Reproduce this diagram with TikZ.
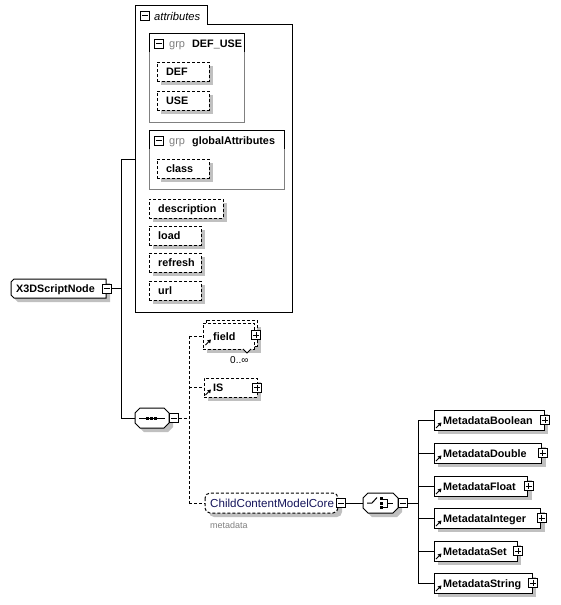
\documentclass[tikz,border=0pt]{standalone}
\usepackage{fontspec}
\setmainfont{Liberation Sans}
\usetikzlibrary{calc}
\definecolor{shd}{RGB}{192,192,192}
\definecolor{grpgray}{RGB}{128,128,128}
\definecolor{navy}{RGB}{20,20,90}
\tikzset{
 ebox/.style={draw, fill=white, line width=1pt, inner sep=0pt, outer sep=0pt, anchor=north west},
 abox/.style={ebox, dash pattern=on 3pt off 2pt},
 grpbox/.style={draw=grpgray, line width=1pt, inner sep=0pt, outer sep=0pt, anchor=north west},
 hitbox/.style={inner sep=0pt, outer sep=0pt, anchor=north west},
 xbox/.style={draw, fill=white, line width=1pt, minimum size=9pt, inner sep=0pt, outer sep=0pt},
 lbl/.style={inner sep=0pt, anchor=base west, font=\fontsize{10.8}{12}\selectfont\bfseries},
 reglbl/.style={inner sep=0pt, anchor=base west, font=\fontsize{11}{12}\selectfont},
 conn/.style={line width=1pt},
 dconn/.style={line width=1pt, dash pattern=on 3pt off 2pt},
}
\newcommand{\minusbox}[3]{\node[xbox] (#1) at (#2,#3) {};
 \draw[line width=1pt] ($(#1.center)+(-3,0)$) -- ($(#1.center)+(3,0)$);}
\newcommand{\plusbox}[3]{\minusbox{#1}{#2}{#3}
 \draw[line width=1pt] ($(#1.center)+(0,-3)$) -- ($(#1.center)+(0,3)$);}
% style, name, x1, y1, x2, y2, text x, text
\newcommand{\bx}[8]{%
 \fill[shd] (#3+4,#4+4) rectangle (#5+4,#6+4);
 \node[#1, minimum width=#5-#3, minimum height=#6-#4] (#2) at (#3,#4) {};
 \node[lbl] at (#7,{(#4+#6)/2+4}) {#8};}
\newcommand{\refarrow}[2]{%
 \draw[line width=0.9pt] (#1,#2) -- (#1+3,#2-3);
 \fill (#1+5.5,#2-5.5) -- (#1+1.6,#2-4.6) -- (#1+4.6,#2-1.6) -- cycle;}
\begin{document}
\begin{tikzpicture}[x=1pt,y=-1pt]
\useasboundingbox[fill=white] (0,0) rectangle (561,605);

% ---------- attributes container
\draw[conn] (135,5) -- (207,5) -- (207,24) -- (292,24) -- (292,312) -- (135,312) -- cycle;
\node[hitbox, minimum width=157, minimum height=307] (attrs) at (135,5) {};
\minusbox{mattr}{145}{15.5}
\node[reglbl, font=\fontsize{11.2}{12}\selectfont\itshape] (tattr) at (154,20) {attributes};

% group DEF_USE
\node[grpbox, minimum width=95, minimum height=89] (defuse) at (149,33) {};
\draw[conn] (149,52) -- (149,33) -- (244,33) -- (244,52);
\minusbox{mdefuse}{159}{43.5}
\node[reglbl, text=grpgray] at (169,47.5) {grp};
\node[lbl] at (192,47.5) {DEF\_USE};
\bx{abox}{def}{157}{62}{209}{81}{166}{DEF}
\bx{abox}{use}{157}{91}{209}{110}{166}{USE}

% group globalAttributes
\node[grpbox, minimum width=135, minimum height=59] (glob) at (149,130) {};
\draw[conn] (149,149) -- (149,130) -- (284,130) -- (284,149);
\minusbox{mglob}{159}{140.5}
\node[reglbl, text=grpgray] at (169,144.5) {grp};
\node[lbl] at (192,144.5) {globalAttributes};
\bx{abox}{class}{157}{159}{209}{178}{166}{class}

\bx{abox}{descr}{149}{199}{223}{218}{158}{description}
\bx{abox}{load}{149}{226}{201}{245}{158}{load}
\bx{abox}{refresh}{149}{253}{201}{272}{158}{refresh}
\bx{abox}{url}{149}{281}{201}{300}{158}{url}

% ---------- X3DScriptNode
\fill[shd] (18,283) -- (110,283) -- (110,302) -- (18,302) -- (15,299) -- (15,286) -- cycle;
\draw[conn, fill=white] (14,279) -- (106,279) -- (106,298) -- (14,298) -- (11,295) -- (11,282) -- cycle;
\node[hitbox, minimum width=95, minimum height=19] (x3d) at (11,279) {};
\node[lbl] at (16,292.5) {X3DScriptNode};
\minusbox{mx3d}{107}{288.5}

% trunk connectors
\coordinate (j1) at (121,159);
\coordinate (j2) at (121,418);
\draw[conn] (mx3d.east) -- (mx3d.east -| j1);
\draw[conn] (attrs.west |- j1) -- (j1) -- (j2);

% ---------- sequence
\fill[shd] (144,412) -- (168,412) -- (173,417) -- (173,427) -- (168,432) -- (144,432) -- (139,427) -- (139,417) -- cycle;
\draw[conn, fill=white] (140,408) -- (164,408) -- (169,413) -- (169,423) -- (164,428) -- (140,428) -- (135,423) -- (135,413) -- cycle;
\node[hitbox, minimum width=34, minimum height=20] (seq) at (135,408) {};
\draw[conn] (139,418) -- (165,418);
\fill (145.5,416.5) rectangle (148.5,419.5);
\fill (149.5,416.5) rectangle (152.5,419.5);
\fill (153.5,416.5) rectangle (156.5,419.5);
\minusbox{mseq}{174}{418}
\draw[conn] (j2) -- (seq.west);

\coordinate (s1) at (189,336);
\coordinate (s2) at (189,418);
\coordinate (s3) at (189,503);
\draw[dconn] (mseq.east) -- (s2);
\draw[dconn] (s1) -- (s3);

% field (multiple)
\fill[shd] (207,327) rectangle (261,353);
\draw[dconn, fill=white] (206,320) rectangle (257,346);
\node[abox, minimum width=51, minimum height=26] (field) at (203,323) {};
\node[lbl] at (213,340) {field};
\refarrow{205.5}{345}
\plusbox{pfield}{256}{335}
\draw[line width=0.8pt, fill=white] (243,349) -- (247,353) -- (251,349);
\node[reglbl, font=\fontsize{10}{12}\selectfont] at (230,363.5) {0..∞};
\draw[dconn] (s1) -- (s1 -| field.west);

% IS
\bx{abox}{is}{204}{378}{257}{397}{213}{IS}
\refarrow{205.5}{395}
\plusbox{pis}{257}{387.5}
\draw[dconn] (s1 |- is.west) -- (is.west);

% ChildContentModelCore
\fill[shd, rounded corners=5pt] (209,497) rectangle (342,517);
\draw[dconn, fill=white, rounded corners=5pt] (205,493) rectangle (338,513);
\node[hitbox, minimum width=133, minimum height=20] (ccmc) at (205,493) {};
\node[reglbl, text=navy, font=\fontsize{11.6}{12}\selectfont] at (210,507.5) {ChildContentModelCore};
\node[reglbl, text=grpgray, font=\fontsize{9}{10}\selectfont] at (210,528) {metadata};
\minusbox{mccmc}{341}{503}
\draw[dconn] (s3) -- (ccmc.west);

% ---------- choice
\fill[shd] (372,497) -- (397,497) -- (402,502) -- (402,512) -- (397,517) -- (372,517) -- (367,512) -- (367,502) -- cycle;
\draw[conn, fill=white] (368,493) -- (393,493) -- (398,498) -- (398,508) -- (393,513) -- (368,513) -- (363,508) -- (363,498) -- cycle;
\node[hitbox, minimum width=35, minimum height=20] (choice) at (363,493) {};
\draw[conn] (367,503) -- (372,503) -- (377,497.5);
\fill (379.5,497) rectangle (382.5,500);
\fill (379.5,501.5) rectangle (382.5,504.5);
\fill (379.5,506) rectangle (382.5,509);
\draw[conn] (382.5,499) -- (387.5,499) -- (387.5,507.5) -- (382.5,507.5);
\draw[conn] (387.5,503) -- (393,503);
\minusbox{mchoice}{403}{503}
\draw[conn] (mccmc.east) -- (choice.west);

\coordinate (c0) at (418,503);
\coordinate (ct) at (418,420);
\coordinate (cb) at (418,583);
\draw[conn] (mchoice.east) -- (c0);
\draw[conn] (ct) -- (cb);

% metadata elements
\bx{ebox}{mbool}{434}{410}{544}{430}{443}{MetadataBoolean}
\refarrow{436}{428}
\plusbox{pmbool}{545}{420}
\bx{ebox}{mdouble}{434}{443}{541.5}{463}{443}{MetadataDouble}
\refarrow{436}{461}
\plusbox{pmdouble}{542.5}{453}
\bx{ebox}{mfloat}{434}{476}{527.5}{496}{443}{MetadataFloat}
\refarrow{436}{494}
\plusbox{pmfloat}{528.5}{486}
\bx{ebox}{mint}{434}{508}{540.5}{528}{443}{MetadataInteger}
\refarrow{436}{526}
\plusbox{pmint}{541.5}{518}
\bx{ebox}{mset}{434}{541}{517}{561}{443}{MetadataSet}
\refarrow{436}{559}
\plusbox{pmset}{518}{551}
\bx{ebox}{mstr}{434}{573}{532}{593}{443}{MetadataString}
\refarrow{436}{591}
\plusbox{pmstr}{533}{583}

\foreach \n in {mbool,mdouble,mfloat,mint,mset,mstr}
 \draw[conn] (ct |- \n.west) -- (\n.west);
\end{tikzpicture}
\end{document}
